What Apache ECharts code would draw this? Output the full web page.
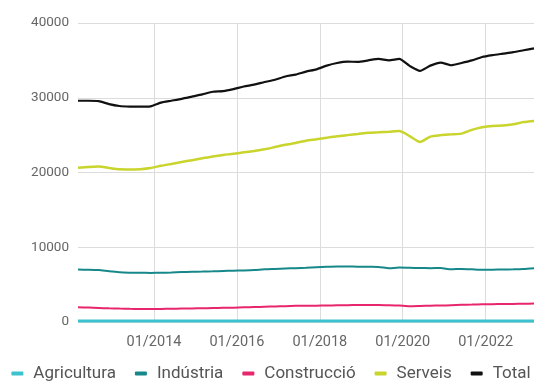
<!DOCTYPE html>
<html>
<head>
<meta charset="utf-8">
<script src="https://cdn.jsdelivr.net/npm/echarts@6/dist/echarts.min.js"></script>
<style>
  html, body { margin: 0; padding: 0; background: #fff; }
  #chart { width: 542px; height: 381px; }
</style>
</head>
<body>
<div id="chart"></div>
<script>
// mesos (trimestrals) MM/AAAA
const dates = [
  '03/2012', '06/2012', '09/2012', '12/2012',
  '03/2013', '06/2013', '09/2013', '12/2013',
  '03/2014', '06/2014', '09/2014', '12/2014',
  '03/2015', '06/2015', '09/2015', '12/2015',
  '03/2016', '06/2016', '09/2016', '12/2016',
  '03/2017', '06/2017', '09/2017', '12/2017',
  '03/2018', '06/2018', '09/2018', '12/2018',
  '03/2019', '06/2019', '09/2019', '12/2019',
  '03/2020', '06/2020', '09/2020', '12/2020',
  '03/2021', '06/2021', '09/2021', '12/2021',
  '03/2022', '06/2022', '09/2022', '12/2022',
  '03/2023'
];

const agricultura = [
  130, 130, 130, 125, 125, 125, 125, 125, 125, 125, 125, 125,
  125, 125, 125, 125, 125, 125, 125, 125, 125, 125, 125, 125,
  125, 125, 125, 125, 125, 125, 125, 125, 125, 125, 125, 125,
  125, 125, 125, 125, 125, 125, 125, 125, 125
];

const industria = [
  7010, 7000, 6950, 6780, 6650, 6600, 6580, 6570, 6580, 6620, 6680, 6720,
  6740, 6780, 6830, 6870, 6900, 6950, 7050, 7100, 7150, 7200, 7250, 7320,
  7380, 7420, 7420, 7400, 7380, 7370, 7200, 7280, 7250, 7220, 7200, 7220,
  7050, 7100, 7050, 6980, 7000, 7030, 7050, 7100, 7200
];

const construccio = [
  1970, 1930, 1880, 1830, 1790, 1760, 1740, 1740, 1750, 1770, 1800, 1820,
  1830, 1860, 1890, 1920, 1960, 2000, 2040, 2080, 2120, 2160, 2180, 2190,
  2210, 2230, 2250, 2270, 2280, 2280, 2250, 2200, 2100, 2140, 2190, 2200,
  2250, 2300, 2330, 2370, 2390, 2400, 2420, 2440, 2460
];

const serveis = [
  20640, 20750, 20800, 20600, 20420, 20400, 20450, 20600, 20900, 21150, 21400, 21650,
  21900, 22150, 22350, 22500, 22700, 22880, 23100, 23400, 23700, 23950, 24250, 24440,
  24650, 24850, 25000, 25150, 25330, 25380, 25450, 25550, 24880, 24080, 24800, 25000,
  25100, 25200, 25700, 26050, 26230, 26280, 26450, 26750, 26900
];

const total = [
  29600, 29600, 29550, 29150, 28900, 28820, 28800, 28850, 29350, 29600, 29850, 30150,
  30450, 30800, 30880, 31150, 31500, 31750, 32100, 32400, 32850, 33100, 33500, 33800,
  34300, 34650, 34830, 34800, 35000, 35200, 35000, 35200, 34260, 33600, 34300, 34700,
  34350, 34650, 35000, 35450, 35700, 35900, 36100, 36350, 36600
];

const xTicks = ['01/2014', '01/2016', '01/2018', '01/2020', '01/2022'];

// MM/AAAA -> mesos des de 01/2012
function monthIndex(s) {
  const [mm, yy] = s.split('/').map(Number);
  return (yy - 2012) * 12 + (mm - 1);
}
function monthLabel(m) {
  const mm = (m % 12) + 1;
  const yy = 2012 + Math.floor(m / 12);
  return (mm < 10 ? '0' + mm : '' + mm) + '/' + yy;
}

const series = [
  { name: 'Agricultura', data: agricultura, color: '#3cc3cf', width: 3 },
  { name: 'Indústria', data: industria, color: '#17888a', width: 2 },
  { name: 'Construcció', data: construccio, color: '#e8266d', width: 2 },
  { name: 'Serveis', data: serveis, color: '#c9d42c', width: 2.5 },
  { name: 'Total', data: total, color: '#111111', width: 2.2 }
];

const chart = echarts.init(document.getElementById('chart'), null, { renderer: 'canvas' });
const tickVals = xTicks.map(monthIndex);

chart.setOption({
  animation: false,
  textStyle: { fontFamily: 'Roboto' },
  grid: { left: 78, right: 8, top: 23, bottom: 59 },
  legend: {
    top: 360,
    left: 'center',
    itemWidth: 12,
    itemHeight: 4,
    itemGap: 19,
    icon: 'roundRect',
    textStyle: { fontSize: 17, color: '#555', padding: [0, 0, 0, 5] },
    data: series.map(s => s.name)
  },
  xAxis: {
    type: 'value',
    min: monthIndex(dates[0]),
    max: monthIndex(dates[dates.length - 1]),
    axisLine: { show: false },
    axisTick: { show: false, customValues: tickVals },
    axisLabel: {
      customValues: tickVals,
      formatter: v => monthLabel(v),
      color: '#666',
      fontSize: 14.5,
      margin: 13
    },
    splitLine: { show: true, lineStyle: { color: '#dcdcdc' } }
  },
  yAxis: {
    type: 'value',
    min: 0,
    max: 40000,
    interval: 10000,
    axisLine: { show: false },
    axisTick: { show: false },
    axisLabel: { color: '#666', fontSize: 13.5, margin: 9, formatter: v => String(v) },
    splitLine: { lineStyle: { color: '#dcdcdc' } }
  },
  series: series.map(s => ({
    name: s.name,
    type: 'line',
    showSymbol: false,
    smooth: 0.2,
    color: s.color,
    lineStyle: { width: s.width, color: s.color },
    data: dates.map((d, i) => [monthIndex(d), s.data[i]])
  }))
});
</script>
</body>
</html>
